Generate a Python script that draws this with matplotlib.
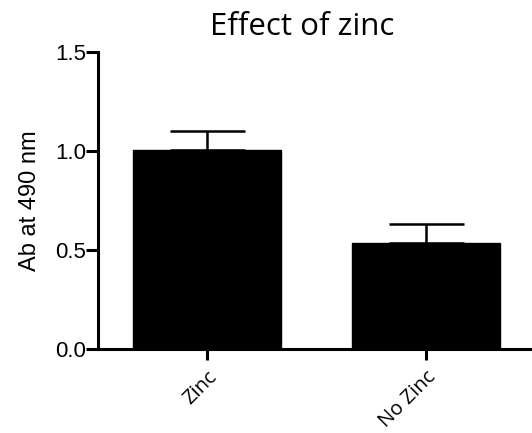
import matplotlib

matplotlib.use("Agg")

import matplotlib.pyplot as plt

categories = ["Zinc", "No Zinc"]
means = [1.005, 0.535]
errors = [0.097, 0.097]

fig = plt.figure(figsize=(5.32, 4.33), dpi=100)
# axes box in pixels: x 98..532, y 52..349 (from top)
ax = fig.add_axes([98 / 532, 1 - 349 / 433, (532 - 98) / 532, (349 - 52) / 433])

x = list(range(len(categories)))
ax.bar(x, means, width=0.68, color="black", edgecolor="black", zorder=2)
ax.errorbar(x, means, yerr=[[0] * len(errors), errors], fmt="none",
            ecolor="black", elinewidth=1.8, capsize=27, capthick=1.8, zorder=1)

ax.set_xlim(-0.498, 1.484)
ax.set_ylim(0, 1.5)
ax.set_yticks([0.0, 0.5, 1.0, 1.5])
ax.set_yticklabels(["0.0", "0.5", "1.0", "1.5"], family="Liberation Sans", fontsize=16)
ax.set_xticks(x)
ax.set_xticklabels(categories, rotation=45, ha="right", rotation_mode="anchor",
                   family="Open Sans", fontsize=14.5)

for side in ("top", "right"):
    ax.spines[side].set_visible(False)
for side in ("left", "bottom"):
    ax.spines[side].set_linewidth(2.2)
ax.tick_params(axis="y", length=8.5, width=2.2, pad=0)
ax.tick_params(axis="x", length=8, width=2.2, pad=5)

ax.set_ylabel("Ab at 490 nm", family="Liberation Sans", fontsize=17, labelpad=10)
fig.text(302 / 532, 1 - 27 / 433, "Effect of zinc", family="Open Sans", fontsize=22.5,
         ha="center", va="center")

fig.savefig("out.png", dpi=100)
